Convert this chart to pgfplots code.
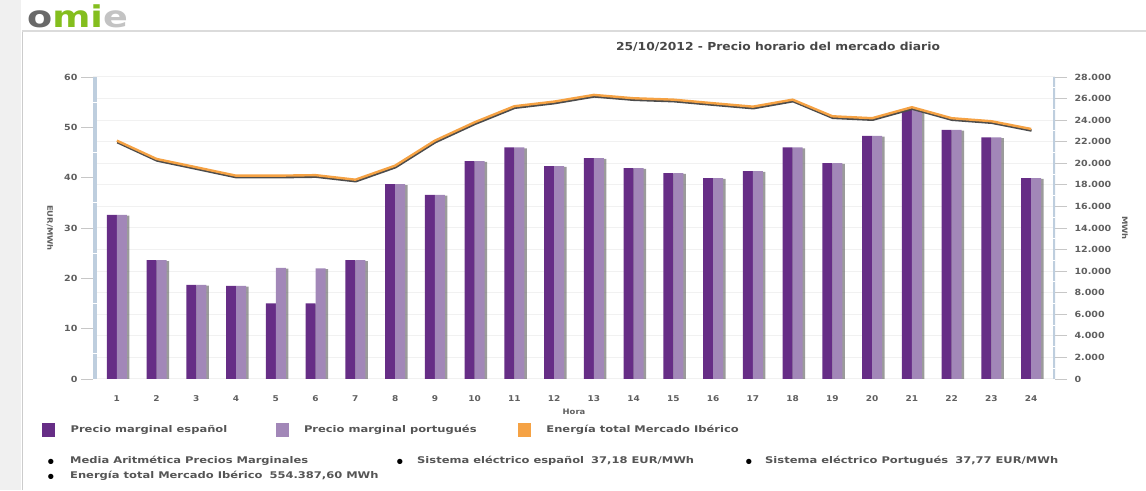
\documentclass[border=0pt]{standalone}
\usepackage{pgfplots}
\pgfplotsset{compat=1.18}
\usepackage{fontspec}
\setmainfont{Liberation Sans}
\newfontfamily\vfont{DejaVu Sans}
\newfontfamily\wfont[FakeStretch=1.12]{DejaVu Sans}
\newfontfamily\lfont[FakeStretch=1.25]{DejaVu Sans}
\newfontfamily\logofont[FakeStretch=1.22]{DejaVu Sans}
\definecolor{spcol}{RGB}{102,45,134}
\definecolor{ptcol}{RGB}{162,135,184}
\definecolor{orng}{RGB}{245,162,68}
\definecolor{band}{RGB}{190,206,222}
\definecolor{tlab}{RGB}{95,95,95}
\definecolor{txt}{RGB}{85,85,85}
\definecolor{gridc}{RGB}{241,241,241}
\definecolor{logogray}{RGB}{105,105,105}
\definecolor{logogreen}{RGB}{132,190,30}
\definecolor{logolight}{RGB}{195,195,195}

\pgfplotsset{
  base/.style={scale only axis, width=962pt, height=302pt, at={(93pt,111pt)}, anchor=south west,
    xmin=0.4, xmax=24.6,
    axis line style={draw=none}, tick style={color=black!22, line width=0.8pt},
    major tick length=12pt, tick align=outside,
    ticklabel style={font=\wfont\bfseries\fontsize{8.5}{10}\selectfont, color=tlab},
    /pgf/number format/assume math mode=true},
  bshadow/.style={preaction={fill=black!60, fill opacity=0.65, transform canvas={xshift=2.5pt,yshift=-0.8pt}}},
}

\begin{document}
\begin{tikzpicture}
\path[use as bounding box] (0,0) rectangle (1146pt,490pt);
\fill[black!6] (0,0) rectangle (21pt,490pt);
\draw[black!20, line width=1pt] (22pt,0) -- (22pt,459pt);
\draw[black!14, line width=2pt] (22pt,459pt) -- (1146pt,459pt);
\node[anchor=base west, inner sep=0pt, font=\logofont\bfseries\fontsize{30}{32}\selectfont] at (27pt,462.5pt)
  {\textcolor{logogray}{o}\textcolor{logogreen}{mi}\textcolor{logolight}{e}};
\node[font=\wfont\bfseries\fontsize{11}{13}\selectfont, text=black!72] at (778pt,443pt)
  {25/10/2012 - Precio horario del mercado diario};

% grid + right axis
\begin{axis}[base, ymin=0, ymax=28000, ytick={0,2000,...,28000}, ytick pos=right, yticklabel pos=right,
  xtick=\empty, ymajorgrids, grid style={color=gridc, line width=1pt},
  scaled y ticks=false, /pgf/number format/1000 sep={.},
  yticklabel style={xshift=4pt},
  ylabel={MWh},
  every axis y label/.style={at={(axis description cs:1,0.5)}, xshift=70pt, rotate=-90, anchor=center,
    font=\wfont\bfseries\fontsize{7.5}{9}\selectfont, color=tlab}]
\end{axis}

% bars + left axis
\begin{axis}[base, ymin=0, ymax=60, ytick={0,10,...,60}, ytick pos=left,
  xtick={1,...,24}, xtick pos=bottom, x tick style={draw=none},
  xticklabel style={yshift=-1pt, font=\wfont\bfseries\fontsize{8}{10}\selectfont},
  xlabel={Hora},
  every axis x label/.style={at={(axis description cs:0.5,0)}, yshift=-33pt, anchor=center,
    font=\wfont\bfseries\fontsize{7.5}{9}\selectfont, color=tlab},
  ylabel={EUR/MWh},
  every axis y label/.style={at={(axis description cs:0,0.5)}, xshift=-43pt, rotate=-90, anchor=center,
    font=\wfont\bfseries\fontsize{7.5}{9}\selectfont, color=tlab}]
\fill[band] ([xshift=-4pt,yshift=-6pt]rel axis cs:0,0) rectangle ([xshift=4pt]rel axis cs:0,1);
\fill[band] ([xshift=-2pt,yshift=-6pt]rel axis cs:1,0) rectangle ([xshift=5pt]rel axis cs:1,1);
\pgfplotsinvokeforeach{1,...,24}{
  \fill[band] ([xshift=-19pt,yshift=-0.5pt]axis cs:#1,0) rectangle ([xshift=19pt,yshift=-6pt]axis cs:#1,0);
}
\pgfplotsinvokeforeach{5,15,25,35,45,55}{
  \draw[white, line width=1pt] ([xshift=-4pt]axis cs:0.4,#1) -- ([xshift=4pt]axis cs:0.4,#1);
}
\pgfplotsinvokeforeach{2.1429,6.4286,10.7143,15,19.2857,23.5714,27.8571,32.1429,36.4286,40.7143,45,49.2857,53.5714,57.8571}{
  \draw[white, line width=1pt] ([xshift=-2pt]axis cs:24.6,#1) -- ([xshift=5pt]axis cs:24.6,#1);
}
\addplot[ybar, bar width=10pt, bar shift=-5pt, fill=spcol, draw=none, bshadow] coordinates {
 (1,32.6) (2,23.6) (3,18.7) (4,18.5) (5,15.0) (6,15.0) (7,23.6) (8,38.7)
 (9,36.6) (10,43.3) (11,46.0) (12,42.3) (13,43.9) (14,41.9) (15,40.9) (16,39.9)
 (17,41.3) (18,46.0) (19,42.9) (20,48.3) (21,53.6) (22,49.5) (23,48.0) (24,39.9)};
\addplot[ybar, bar width=10pt, bar shift=5pt, fill=ptcol, draw=none, bshadow] coordinates {
 (1,32.6) (2,23.6) (3,18.7) (4,18.5) (5,22.1) (6,22.0) (7,23.6) (8,38.7)
 (9,36.6) (10,43.3) (11,46.0) (12,42.3) (13,43.9) (14,41.9) (15,40.9) (16,39.9)
 (17,41.3) (18,46.0) (19,42.9) (20,48.3) (21,53.6) (22,49.5) (23,48.0) (24,39.9)};
\end{axis}

% energy line + legend
\begin{axis}[base, ymin=0, ymax=28000, hide axis,
  legend style={at={(axis description cs:-0.053,-0.169)}, anchor=west, draw=none, fill=none,
    inner sep=0pt, legend columns=3, font=\lfont\bfseries\fontsize{9.2}{11}\selectfont, text=txt,
    /tikz/every odd column/.append style={column sep=16pt},
    /tikz/every even column/.append style={column sep=0pt},
    nodes={inner sep=0pt}}]
\addlegendimage{legend image code/.code={\fill[spcol] (0pt,-6.5pt) rectangle (12pt,6.5pt);}}
\addlegendentry{\makebox[205pt][l]{Precio marginal español}}
\addlegendimage{legend image code/.code={\fill[ptcol] (0pt,-6.5pt) rectangle (12pt,6.5pt);}}
\addlegendentry{\makebox[214pt][l]{Precio marginal portugués}}
\addlegendimage{legend image code/.code={\fill[orng] (0pt,-6.5pt) rectangle (12pt,6.5pt);}}
\addlegendentry{Energía total Mercado Ibérico}
\addplot[forget plot, orng, line width=2.4pt, line join=round,
  preaction={draw=black!70, line width=2.4pt, line join=round, transform canvas={xshift=0.4pt,yshift=-1.6pt}}]
 coordinates {
 (1,22100) (2,20400) (3,19630) (4,18850) (5,18850) (6,18900) (7,18480) (8,19780)
 (9,22100) (10,23800) (11,25290) (12,25720) (13,26340) (14,26030) (15,25900) (16,25570)
 (17,25250) (18,25900) (19,24360) (20,24180) (21,25200) (22,24180) (23,23900) (24,23180)};
\end{axis}

\begin{scope}[font=\lfont\bfseries\fontsize{9.2}{11}\selectfont, text=txt]
\node[anchor=center, inner sep=0pt, text=black] at (51pt,26.5pt) {\vfont\fontsize{15}{16}\selectfont •};
\node[anchor=base west, inner sep=0pt] at (70pt,26pt) {Media Aritmética Precios Marginales};
\node[anchor=center, inner sep=0pt, text=black] at (400pt,26.5pt) {\vfont\fontsize{15}{16}\selectfont •};
\node[anchor=base west, inner sep=0pt] at (417pt,26pt) {Sistema eléctrico español\hspace{7pt}37,18 EUR/MWh};
\node[anchor=center, inner sep=0pt, text=black] at (749pt,26.5pt) {\vfont\fontsize{15}{16}\selectfont •};
\node[anchor=base west, inner sep=0pt] at (765pt,26pt) {Sistema eléctrico Portugués\hspace{7pt}37,77 EUR/MWh};
\node[anchor=center, inner sep=0pt, text=black] at (51pt,12pt) {\vfont\fontsize{15}{16}\selectfont •};
\node[anchor=base west, inner sep=0pt] at (70pt,11.5pt) {Energía total Mercado Ibérico\hspace{7pt}554.387,60 MWh};
\end{scope}
\end{tikzpicture}
\end{document}
